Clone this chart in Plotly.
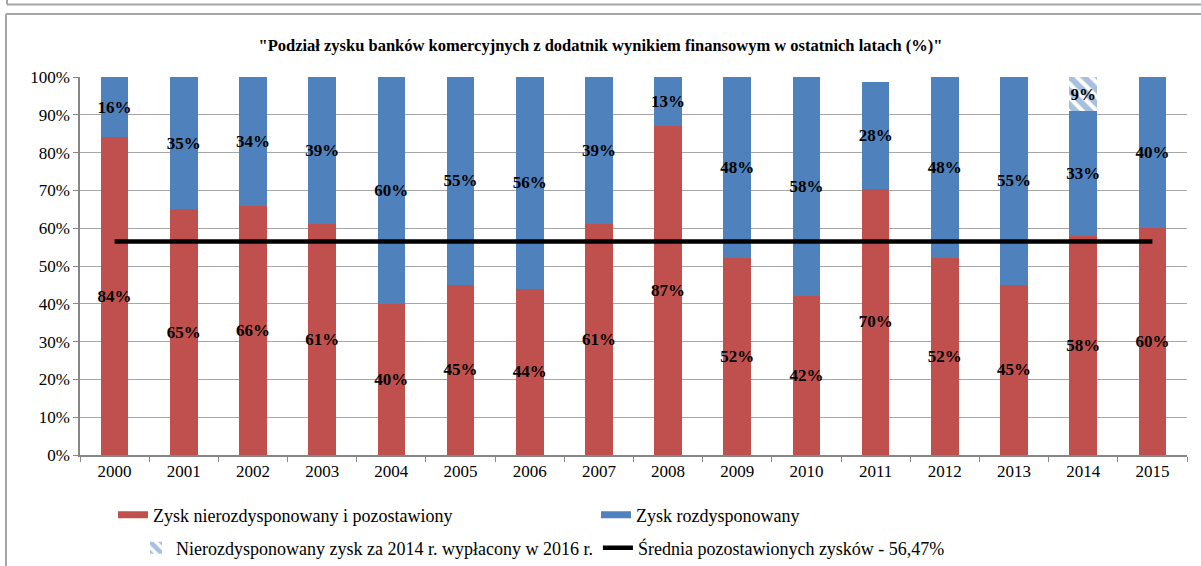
import plotly.graph_objects as go

years = [str(y) for y in range(2000, 2016)]
retained = [84, 65, 66, 61, 40, 45, 44, 61, 87, 52, 42, 70.4, 52, 45, 58, 60]
distributed = [16, 35, 34, 39, 60, 55, 56, 39, 13, 48, 58, 28.4, 48, 55, 33, 40]
paid_2016 = [None] * 16
paid_2016[14] = 9
average = 56.47

RED = "#C0504D"
BLUE = "#4F81BD"
GRID = "#A6A6A6"
FONT = "Liberation Serif"

lbl_font = dict(family=FONT, size=17, color="black")
bar_common = dict(texttemplate="<b>%{y:.0f}%</b>", textposition="inside", textangle=0,
                  insidetextanchor="middle", constraintext="none",
                  textfont=lbl_font, width=0.4)

fig = go.Figure()
fig.add_trace(go.Bar(x=years, y=retained, marker=dict(color=RED, line=dict(width=0)),
                     showlegend=False, **bar_common))
fig.add_trace(go.Bar(x=years, y=distributed, marker=dict(color=BLUE, line=dict(width=0)),
                     showlegend=False, **bar_common))
fig.add_trace(go.Bar(x=years, y=paid_2016,
                     marker=dict(color="white", line=dict(width=0),
                                 pattern=dict(shape="\\", fgcolor=BLUE, bgcolor="white",
                                              size=10, solidity=0.6)),
                     name="Nierozdysponowany zysk za 2014 r. wypłacony w 2016 r.",
                     legend="legend2", **bar_common))
fig.add_trace(go.Scatter(x=years, y=[average] * len(years), mode="lines",
                         line=dict(color="black", width=4.5),
                         name="Średnia pozostawionych zysków - 56,47%",
                         legend="legend2"))
# legend-only entries for the stacked series
fig.add_trace(go.Scatter(x=[None], y=[None], mode="lines", line=dict(color=RED, width=7),
                         name="Zysk nierozdysponowany i pozostawiony", legend="legend"))
fig.add_trace(go.Scatter(x=[None], y=[None], mode="lines", line=dict(color=BLUE, width=7),
                         name="Zysk rozdysponowany", legend="legend"))

L, R, T, B = 80, 14, 77, 111
W, H = 1201, 566
pw, ph = W - L - R, H - T - B

def px_x(px):
    return (px - L) / pw

def px_y(py):
    return (H - B - py) / ph

frame = dict(color="#A6A6A6", width=2)
shapes = [
    dict(type="line", xref="paper", yref="paper", x0=px_x(7), x1=px_x(1205),
         y0=px_y(4.5), y1=px_y(4.5), line=frame),
    dict(type="line", xref="paper", yref="paper", x0=px_x(7), x1=px_x(7),
         y0=px_y(-5), y1=px_y(4.5), line=frame),
    dict(type="line", xref="paper", yref="paper", x0=px_x(6), x1=px_x(1205),
         y0=px_y(14), y1=px_y(14), line=frame),
    dict(type="line", xref="paper", yref="paper", x0=px_x(6), x1=px_x(6),
         y0=px_y(14), y1=px_y(570), line=frame),
]

fig.update_layout(
    width=W, height=H,
    margin=dict(l=L, r=R, t=T, b=B, autoexpand=False),
    paper_bgcolor="white", plot_bgcolor="white",
    barmode="stack", bargap=0.6,
    font=dict(family=FONT, size=17, color="black"),
    title=dict(text="<b>\"Podział zysku banków komercyjnych z dodatnik wynikiem finansowym w ostatnich latach (%)\"</b>",
               x=0.5, xref="container", xanchor="center", y=1 - 45 / H, yanchor="middle",
               font=dict(family=FONT, size=16.5, color="black")),
    xaxis=dict(type="category", showline=True, linecolor="#868686", linewidth=1.5,
               ticks="outside", tickson="boundaries", ticklen=5, tickcolor="#868686",
               tickfont=dict(family=FONT, size=17), showgrid=False, automargin=False),
    yaxis=dict(range=[0, 100], dtick=10, ticksuffix="%", showline=True,
               linecolor="#868686", linewidth=1.5, ticks="outside", ticklen=5,
               tickcolor="#868686", showgrid=True, gridcolor=GRID, gridwidth=1.3,
               tickfont=dict(family=FONT, size=17), zeroline=False, automargin=False),
    legend=dict(orientation="h", traceorder="normal", x=px_x(113), xanchor="left",
                y=px_y(515), yanchor="middle",
                entrywidth=438, entrywidthmode="pixels",
                font=dict(family=FONT, size=18), bgcolor="rgba(0,0,0,0)"),
    legend2=dict(orientation="h", traceorder="normal", x=px_x(136), xanchor="left",
                 y=px_y(548), yanchor="middle",
                 font=dict(family=FONT, size=18), bgcolor="rgba(0,0,0,0)"),
    shapes=shapes,
)

fig.write_html("out.html", config={"displayModeBar": False},
               post_script="document.body.style.margin='0';")
